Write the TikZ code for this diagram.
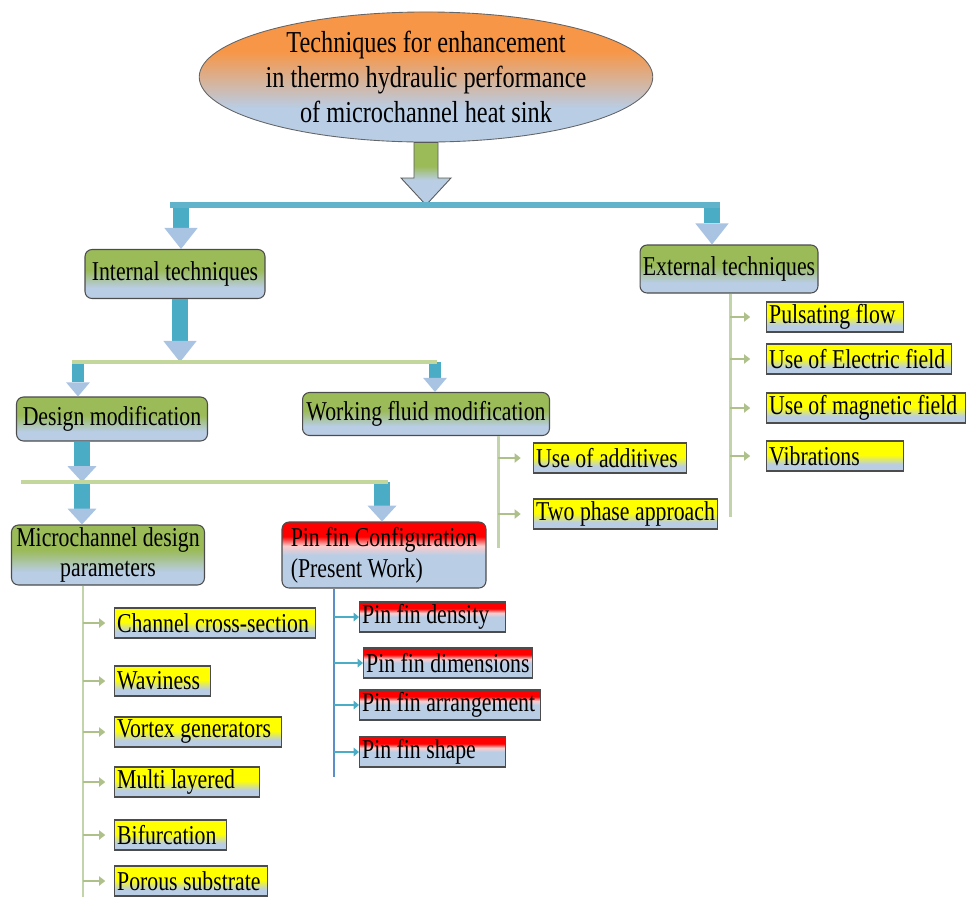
\documentclass[tikz,border=0pt]{standalone}
\usepackage{fontspec}
\setmainfont{Liberation Serif}[FakeStretch=0.8]
\usetikzlibrary{shapes.geometric,arrows.meta,calc}

\definecolor{boxgreen}{HTML}{9BBB59}
\definecolor{boxblue}{HTML}{B9CDE5}
\definecolor{boxorange}{HTML}{F79646}
\definecolor{arrteal}{HTML}{4BACC6}
\definecolor{headblue}{HTML}{A9C3E3}
\definecolor{linegreen}{HTML}{C3D69B}
\definecolor{pinblue}{HTML}{5B8FCB}

\pgfdeclareverticalshading{greenshade}{100bp}{color(0bp)=(boxblue); color(25bp)=(boxblue); color(36bp)=(boxblue); color(54bp)=(boxgreen); color(75bp)=(boxgreen); color(100bp)=(boxgreen)}
\pgfdeclareverticalshading{yelshade}{100bp}{color(0bp)=(boxblue); color(25bp)=(boxblue); color(36bp)=(boxblue); color(52bp)=(yellow); color(75bp)=(yellow); color(100bp)=(yellow)}
\pgfdeclareverticalshading{redshade}{100bp}{color(0bp)=(boxblue); color(25bp)=(boxblue); color(50bp)=(boxblue); color(57bp)=(red!20!white); color(64bp)=(red); color(75bp)=(red); color(100bp)=(red)}
\pgfdeclareverticalshading{orangeshade}{100bp}{color(0bp)=(boxblue); color(25bp)=(boxblue); color(38bp)=(boxblue); color(60bp)=(boxorange); color(75bp)=(boxorange); color(100bp)=(boxorange)}
\pgfdeclareverticalshading{bigshade}{100bp}{color(0bp)=(boxblue); color(25bp)=(boxblue); color(45bp)=(boxblue); color(56bp)=(boxgreen); color(75bp)=(boxgreen); color(100bp)=(boxgreen)}

\begin{document}
\begin{tikzpicture}[x=0.02cm, y=-0.02cm,
	txt/.style={font=\fontsize{15.5}{17.5}\selectfont},
	gbox/.style={txt, rectangle, rounded corners=4pt, draw=black!70, line width=0.6pt, shade, shading=greenshade, align=center, inner sep=1pt},
	pbox/.style={gbox, shading=redshade, align=left},
	yleaf/.style={txt, rectangle, draw=black!70, line width=0.6pt, shade, shading=yelshade, anchor=west, text width={#1*0.02cm-3pt}, inner xsep=1.5pt, inner ysep=0pt, minimum height=0.6cm, align=flush left, execute at begin node={\hbox\bgroup}, execute at end node={\egroup}},
	rleaf/.style={yleaf=#1, shading=redshade},
	fatarrow/.style={draw=arrteal, line width=9pt, -{Triangle[width=19pt,length=12pt,line width=0pt,color=headblue]}},
	midarrow/.style={draw=arrteal, line width=9pt, -{Triangle[width=16.5pt,length=9pt,line width=0pt,color=headblue]}},
	slimarrow/.style={draw=arrteal, line width=6.5pt, -{Triangle[width=13.5pt,length=8pt,line width=0pt,color=headblue]}},
	barline/.style={draw=arrteal!80!boxblue, line width=3pt},
	hline/.style={draw=linegreen, line width=2.5pt},
	vgreen/.style={draw=linegreen!80!boxblue, line width=1.7pt},
	vblue/.style={draw=pinblue, line width=1.7pt},
	garrow/.style={draw=linegreen!90!black, line width=1.6pt, -{Triangle[width=5.5pt,length=3.5pt,line width=0pt]}},
	barrow/.style={draw=arrteal, line width=1.4pt, -{Triangle[width=5pt,length=3pt,line width=0pt]}}
	]
	\useasboundingbox (0,0) rectangle (966,897);

	\node[ellipse, draw=gray!80!black, line width=0.5pt, shade, shading=orangeshade, minimum width=8.2cm, minimum height=2.56cm, inner sep=0pt, align=center, font=\fontsize{17.3}{20}\selectfont] (top) at (426,77) {Techniques for enhancement\\in thermo hydraulic performance\\of microchannel heat sink};

	\node[gbox, minimum width=3.6cm, minimum height=0.98cm] (int) at (175,274) {Internal techniques};
	\node[gbox, minimum width=3.56cm, minimum height=0.96cm] (ext) at (729,269) {External techniques};
	\node[gbox, minimum width=3.82cm, minimum height=0.88cm] (dm) at (112,419) {Design modification};
	\node[gbox, minimum width=4.94cm, minimum height=0.86cm] (wf) at (426,414) {Working fluid modification};
	\node[gbox, minimum width=3.86cm, minimum height=1.2cm] (mdp) at (108,555) {Microchannel design\\parameters};
	\node[pbox, minimum width=4.08cm, minimum height=1.32cm] (pfc) at (384,555) {Pin fin Configuration\\(Present Work)};

	\node[yleaf=137] (pf) at (766,317) {Pulsating flow};
	\node[yleaf=185] (ef) at (766,359) {Use of Electric field};
	\node[yleaf=199] (mf) at (766,408) {Use of magnetic field};
	\node[yleaf=137] (vib) at (766,456) {Vibrations};

	\node[yleaf=153] (add) at (533,458) {Use of additives};
	\node[yleaf=184] (tpa) at (533,514) {Two phase approach};

	\node[yleaf=201] (ccs) at (114,623) {Channel cross-section};
	\node[yleaf=96] (wav) at (114,681) {Waviness};
	\node[yleaf=167] (vg) at (114,732) {Vortex generators};
	\node[yleaf=145] (ml) at (114,782) {Multi layered};
	\node[yleaf=112] (bif) at (114,835) {Bifurcation};
	\node[yleaf=153] (ps) at (114,881) {Porous substrate};

	\node[rleaf=146] (pfd) at (359,617) {Pin fin density};
	\node[rleaf=169] (pfdim) at (363,663) {Pin fin dimensions};
	\node[rleaf=181] (pfa) at (359,705) {Pin fin arrangement};
	\node[rleaf=146] (pfs) at (359,752) {Pin fin shape};

	\coordinate (barL) at (170,205);
	\coordinate (barR) at (720,205);
	\coordinate (barM) at (426,205);
	\coordinate (tA) at (181,205);
	\coordinate (tB) at (712,205);

	\shadedraw[draw=gray!70!black, line width=0.5pt, shading=bigshade] ($(top.south)+(-12,0)$) -- ($(top.south)+(12,0)$) -- ($(barM)+(12,-27)$) -- ($(barM)+(25,-27)$) -- (barM) -- ($(barM)+(-25,-27)$) -- ($(barM)+(-12,-27)$) -- cycle;

	\draw[fatarrow] (tA) -- (tA |- int.north);
	\draw[fatarrow] (tB) -- (tB |- ext.north);
	\draw[barline] (barL) -- (barR);

	\coordinate (h2L) at (72,362);
	\coordinate (h2R) at (437,362);
	\coordinate (h2M) at (180,362);
	\coordinate (h2a) at (78,362);
	\coordinate (h2b) at (435,362);

	\draw[fatarrow] (h2M |- int.south) -- (h2M);
	\draw[slimarrow] (h2a) -- (h2a |- dm.north);
	\draw[slimarrow] (h2b) -- (h2b |- wf.north);
	\draw[hline] (h2L) -- (h2R);

	\coordinate (h3L) at (21,482);
	\coordinate (h3R) at (388,482);
	\coordinate (h3M) at (82,482);
	\coordinate (h3b) at (382,482);

	\draw[midarrow] (h3M |- dm.south) -- (h3M);
	\draw[midarrow] (h3M) -- (h3M |- mdp.north);
	\draw[midarrow] (h3b) -- (h3b |- pfc.north);
	\draw[hline] (h3L) -- (h3R);

	\coordinate (extv) at (730,517);
	\draw[vgreen] (extv |- ext.south) -- (extv);
	\draw[garrow] (extv |- pf.west) -- ([xshift=-9pt]pf.west);
	\draw[garrow] (extv |- ef.west) -- ([xshift=-9pt]ef.west);
	\draw[garrow] (extv |- mf.west) -- ([xshift=-9pt]mf.west);
	\draw[garrow] (extv |- vib.west) -- ([xshift=-9pt]vib.west);

	\coordinate (wfv) at (498,548);
	\draw[vgreen] (wfv |- wf.south) -- (wfv);
	\draw[garrow] (wfv |- add.west) -- ([xshift=-7pt]add.west);
	\draw[garrow] (wfv |- tpa.west) -- ([xshift=-7pt]tpa.west);

	\coordinate (mdpv) at (83,897);
	\draw[vgreen] (mdpv |- mdp.south) -- (mdpv);
	\draw[garrow] (mdpv |- ccs.west) -- ([xshift=-5pt]ccs.west);
	\draw[garrow] (mdpv |- wav.west) -- ([xshift=-5pt]wav.west);
	\draw[garrow] (mdpv |- vg.west) -- ([xshift=-5pt]vg.west);
	\draw[garrow] (mdpv |- ml.west) -- ([xshift=-5pt]ml.west);
	\draw[garrow] (mdpv |- bif.west) -- ([xshift=-5pt]bif.west);
	\draw[garrow] (mdpv |- ps.west) -- ([xshift=-5pt]ps.west);

	\coordinate (pfcv) at (334,777);
	\draw[vblue] (pfcv |- pfc.south) -- (pfcv);
	\draw[barrow] (pfcv |- pfd.west) -- (pfd.west);
	\draw[barrow] (pfcv |- pfdim.west) -- (pfdim.west);
	\draw[barrow] (pfcv |- pfa.west) -- (pfa.west);
	\draw[barrow] (pfcv |- pfs.west) -- (pfs.west);

\end{tikzpicture}
\end{document}
